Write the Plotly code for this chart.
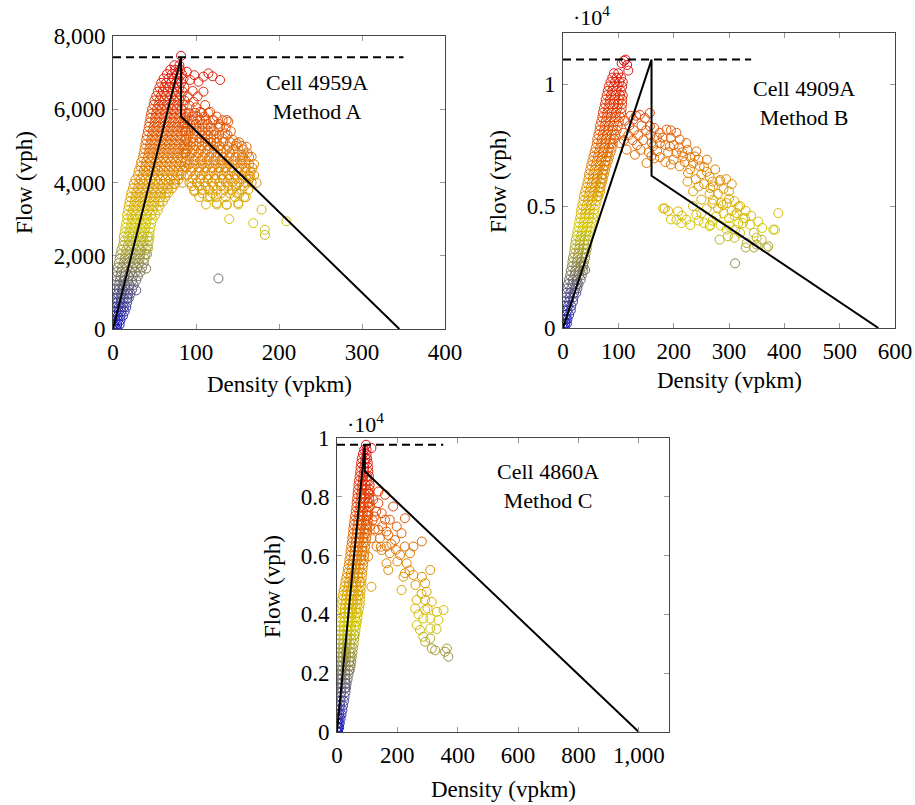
import plotly.graph_objects as go

# ---------------- DATA ----------------
# Free-flow branch, read off the picture as rows: (flow [vph], [densities (vpkm)])
cell_a_free_rows = [
    (0, [0, 3, 5]), (120, [0, 2, 5, 8]), (240, [0, 3, 6, 9]), (360, [0, 3, 6, 9, 12]),
    (480, [1, 4, 7, 10, 14]), (600, [1, 4, 7, 10, 13, 16]), (720, [1, 5, 9, 13, 17]),
    (840, [1, 5, 9, 13, 17, 19]), (960, [2, 6, 10, 14, 18, 21]), (1080, [3, 7, 11, 15, 19, 23]),
    (1200, [3, 7, 11, 15, 20, 25]), (1320, [4, 8, 13, 18, 23, 28]), (1440, [4, 9, 14, 19, 24, 30]),
    (1560, [5, 10, 15, 21, 27, 33]), (1680, [6, 11, 17, 23, 29, 35]), (1800, [7, 13, 19, 25, 31, 37]),
    (1920, [8, 14, 20, 26, 32, 38]), (2040, [9, 15, 21, 27, 33, 39, 41]), (2160, [10, 16, 22, 28, 34, 40]),
    (2280, [12, 18, 24, 30, 36, 42]), (2400, [13, 19, 25, 31, 37, 43]), (2520, [13, 18, 24, 30, 36, 42, 44]),
    (2640, [14, 20, 26, 32, 38, 44]), (2760, [15, 21, 27, 33, 39, 45]), (2880, [16, 22, 28, 34, 40, 46]),
    (3000, [17, 23, 29, 35, 41, 48]), (3120, [17, 22, 28, 34, 40, 46, 51]), (3240, [18, 24, 30, 36, 42, 48, 54]),
    (3360, [19, 25, 31, 37, 43, 49, 56]), (3480, [20, 26, 32, 38, 44, 50, 56, 60]),
    (3600, [21, 27, 33, 39, 45, 51, 57, 63]), (3720, [22, 28, 34, 40, 46, 52, 58, 64, 67]),
    (3840, [24, 30, 36, 42, 48, 54, 60, 66, 71]), (3960, [25, 31, 37, 43, 49, 55, 61, 67, 73, 75]),
    (4080, [27, 33, 39, 45, 51, 57, 63, 69, 75, 79]), (4200, [30, 36, 42, 48, 54, 60, 66, 72, 78, 82]),
    (4320, [31, 37, 43, 49, 55, 61, 67, 73, 79, 84]), (4440, [33, 39, 45, 51, 57, 63, 69, 75, 81, 86]),
    (4560, [34, 40, 46, 52, 58, 64, 70, 76, 82, 87]), (4680, [36, 42, 48, 54, 60, 66, 72, 78, 84]),
    (4800, [37, 43, 49, 55, 61, 67, 73, 79, 85, 88]), (4920, [38, 44, 50, 56, 62, 68, 74, 80, 86]),
    (5040, [39, 45, 51, 57, 63, 69, 75, 81, 87]), (5160, [40, 46, 52, 58, 64, 70, 76, 82, 88]),
    (5280, [41, 47, 53, 59, 65, 71, 77, 83]), (5400, [42, 48, 54, 60, 66, 72, 78, 84, 88]),
    (5520, [43, 49, 55, 61, 67, 73, 79, 85]), (5640, [44, 50, 56, 62, 68, 74, 80, 86]),
    (5760, [45, 51, 57, 63, 69, 75, 81, 87]), (5880, [46, 52, 58, 64, 70, 76, 82, 88]),
    (6000, [47, 53, 59, 65, 71, 77, 83]), (6120, [49, 55, 61, 67, 73, 79, 85]),
    (6240, [50, 56, 62, 68, 74, 80, 86]), (6360, [52, 58, 64, 70, 76, 82]),
    (6480, [54, 60, 66, 72, 78, 84]), (6600, [56, 62, 68, 74, 80, 86]), (6720, [58, 64, 70, 76, 82]),
    (6840, [61, 67, 73, 79, 85]), (6960, [65, 71, 77, 83]), (7080, [69, 75, 81]), (7200, [74, 80]),
    (7460, [82]),
]
cell_a_congested = [
    (89, 7025), (93, 6800), (103, 6750), (109, 6890), (115, 6980), (129, 6800), (120, 6900), (98, 6930),
    (109, 6480), (97, 6205), (111, 6115), (117, 5930), (105, 5930), (96, 6500), (90, 6350), (102, 6350),
    (92, 6100), (100, 6050), (121, 5705), (137, 5705), (139, 5660), (129, 5523), (135, 5340), (145, 5160),
    (149, 5068), (139, 4977), (161, 4977), (167, 4704), (155, 4750),
    (88, 5800), (95, 5800), (102, 5800), (110, 5800), (125, 5800),
    (91, 5900), (99, 5900), (107, 5900), (115, 5900),
    (86, 5600), (93, 5600), (100, 5600), (108, 5600), (114, 5600), (127, 5600),
    (90, 5700), (97, 5700), (105, 5700), (112, 5700), (120, 5700), (132, 5700),
    (87, 5400), (94, 5400), (101, 5400), (108, 5400), (115, 5400), (122, 5400), (142, 5400),
    (90, 5500), (97, 5500), (104, 5500), (111, 5500), (118, 5500), (127, 5500), (136, 5500),
    (88, 5200), (96, 5200), (104, 5200), (111, 5200), (118, 5200), (125, 5200), (132, 5200),
    (91, 5300), (99, 5300), (107, 5300), (114, 5300), (121, 5300), (128, 5300), (138, 5300),
    (86, 5000), (93, 5000), (100, 5000), (107, 5000), (114, 5000), (121, 5000), (128, 5000), (148, 5000), (155, 5000),
    (90, 5100), (97, 5100), (104, 5100), (111, 5100), (118, 5100), (125, 5100), (133, 5100), (141, 5100), (152, 5100),
    (87, 4800), (95, 4800), (103, 4800), (111, 4800), (119, 4800), (126, 4800), (133, 4800), (141, 4800), (150, 4800), (162, 4800),
    (90, 4900), (98, 4900), (106, 4900), (114, 4900), (122, 4900), (130, 4900), (137, 4900), (145, 4900), (157, 4900),
    (89, 4600), (97, 4600), (105, 4600), (113, 4600), (121, 4600), (129, 4600), (137, 4600), (145, 4600), (153, 4600), (160, 4600),
    (92, 4700), (100, 4700), (108, 4700), (116, 4700), (124, 4700), (132, 4700), (140, 4700), (148, 4700), (156, 4700), (164, 4700),
    (88, 4400), (96, 4400), (104, 4400), (112, 4400), (120, 4400), (128, 4400), (136, 4400), (144, 4400), (152, 4400), (160, 4400), (168, 4400),
    (92, 4500), (100, 4500), (108, 4500), (116, 4500), (124, 4500), (132, 4500), (140, 4500), (148, 4500), (156, 4500), (164, 4500),
    (90, 4200), (99, 4200), (107, 4200), (115, 4200), (123, 4200), (131, 4200), (139, 4200), (147, 4200), (155, 4200), (163, 4200), (170, 4200),
    (94, 4300), (103, 4300), (111, 4300), (119, 4300), (127, 4300), (135, 4300), (143, 4300), (151, 4300), (159, 4300), (166, 4300),
    (92, 4000), (101, 4000), (110, 4000), (119, 4000), (128, 4000), (136, 4000), (144, 4000), (152, 4000), (160, 4000), (167, 4000),
    (96, 4100), (105, 4100), (114, 4100), (123, 4100), (132, 4100), (140, 4100), (148, 4100), (156, 4100), (164, 4100),
    (98, 3800), (107, 3800), (116, 3800), (125, 3800), (134, 3800), (143, 3800), (155, 3800), (163, 3800),
    (95, 3900), (104, 3900), (112, 3900), (121, 3900), (130, 3900), (139, 3900), (148, 3900), (158, 3900),
    (104, 3600), (114, 3600), (124, 3600), (136, 3600), (147, 3600), (158, 3600),
    (108, 3700), (120, 3700), (130, 3700), (141, 3700), (152, 3700),
    (112, 3400), (125, 3400), (137, 3400), (151, 3400),
    (84, 3990), (98, 3760), (117, 3620), (125, 3440), (137, 3390), (151, 3440), (149, 3720), (173, 3990),
    (179, 3260), (169, 2890), (183, 2710), (183, 2570), (209, 2940), (140, 3000), (127, 1380),
    (42, 2200), (40, 1650), (28, 1055), (165, 4170), (170, 4500), (160, 3600),
]

cell_b_free_rows = [
    (0, [0, 3]), (180, [0, 4, 7]), (360, [1, 5, 8]), (540, [1, 6, 11]), (720, [2, 8, 14]),
    (900, [3, 9, 15]), (1080, [4, 11, 18]), (1260, [5, 12, 19]), (1440, [6, 13, 20, 24]),
    (1620, [8, 15, 22, 26]), (1800, [9, 17, 25, 28]), (1980, [11, 18, 25, 32]), (2160, [13, 21, 29, 34]),
    (2340, [14, 22, 30, 36]), (2520, [16, 24, 32, 37]), (2700, [17, 25, 33, 38]), (2880, [18, 26, 34, 40]),
    (3060, [20, 28, 36, 41]), (3240, [21, 29, 37, 43]), (3420, [22, 30, 38, 44]), (3600, [23, 31, 39, 45]),
    (3780, [25, 33, 41, 47]), (3960, [26, 34, 42, 49]), (4140, [28, 36, 44, 50]), (4320, [29, 37, 45, 52]),
    (4500, [31, 39, 47, 54]), (4680, [32, 40, 48, 56]), (4860, [33, 41, 49, 57]), (5040, [35, 43, 51, 59]),
    (5220, [37, 45, 53, 61]), (5400, [38, 46, 54, 62, 64]), (5580, [40, 48, 56, 64, 67]),
    (5760, [42, 50, 58, 66, 68]), (5940, [44, 52, 60, 68, 70]), (6120, [46, 54, 62, 70, 72]),
    (6300, [47, 55, 63, 71, 74]), (6480, [49, 57, 65, 73, 76]), (6660, [51, 59, 67, 75, 78]),
    (6840, [53, 61, 69, 77, 81]), (7020, [55, 63, 71, 79, 83]), (7200, [57, 65, 73, 81, 86]),
    (7380, [59, 67, 75, 83, 88]), (7560, [61, 69, 77, 85, 90]), (7740, [62, 70, 78, 86, 92]),
    (7920, [64, 72, 80, 88, 94]), (8100, [66, 74, 82, 90, 97]), (8280, [67, 75, 83, 91, 99]),
    (8460, [69, 77, 85, 93, 101]), (8640, [71, 79, 87, 95, 103]), (8820, [72, 80, 88, 96, 105]),
    (9000, [74, 82, 90, 98, 106]), (9180, [76, 84, 92, 100, 107]), (9360, [77, 85, 93, 101, 107]),
    (9540, [79, 87, 95, 103, 108]), (9720, [81, 89, 97, 105]), (9900, [83, 91, 99, 107]),
    (10080, [86, 94, 102, 108]), (10260, [89, 97, 105]), (10440, [92, 100]),
]
cell_b_congested = [
    (106, 10850), (113, 11000), (116, 10780), (118, 10550), (110, 10950), (40, 2380), (36, 2600),
    (389, 4710), (383, 4030), (368, 3280), (350, 3420), (332, 3480), (338, 4230), (317, 4300), (326, 4500),
    (314, 4710), (311, 4030), (296, 4030), (298, 3760), (283, 3620), (277, 4580), (265, 4170), (286, 5120),
    (283, 6010), (271, 5800), (265, 6200), (250, 5260), (235, 5000), (241, 4640), (223, 4440), (214, 4300),
    (205, 4440), (208, 4780), (181, 4900), (238, 7030), (241, 7240), (217, 7030), (205, 7170), (193, 7440),
    (187, 8130), (175, 8000), (157, 8270), (157, 8810), (139, 8740), (127, 8540), (109, 8000), (103, 7580),
    (115, 7310), (130, 7100), (151, 6760), (163, 7450), (175, 7580), (211, 7720), (223, 7580), (247, 6630),
    (211, 6630), (226, 6350), (271, 5260), (296, 5120), (359, 3620), (371, 3350), (380, 4030), (311, 2650),
    (353, 4360), (329, 4500), (317, 4970), (289, 5040), (266, 4220), (230, 4220), (184, 4900), (284, 6070), (266, 5740),
    (112, 8500), (120, 8300), (128, 8100), (136, 7900), (145, 7700), (118, 7900), (126, 7700), (134, 7500),
    (142, 8300), (150, 8100), (158, 7900), (148, 8600), (132, 8700), (122, 8700), (110, 7700), (140, 7300),
    (155, 7200), (165, 8200), (170, 7800), (160, 7600), (180, 7800), (185, 7500), (195, 7800), (200, 7500),
    (190, 7200), (210, 7400), (215, 7200), (225, 7300), (230, 7000), (220, 6800), (200, 6900), (195, 6700),
    (185, 6800), (175, 7000), (165, 6950), (160, 7050), (170, 7250), (205, 8000), (195, 8100),
    (235, 6750), (245, 6900), (255, 6600), (250, 6300), (240, 6100), (260, 6900), (230, 6500), (260, 6400),
    (270, 6000), (255, 5900), (275, 6500), (280, 5500), (265, 5500), (290, 5700), (245, 5800), (235, 5600),
    (300, 5600), (305, 5900), (295, 6100), (225, 6000),
    (300, 5300), (310, 5200), (320, 5000), (305, 4800), (290, 4700), (280, 4900), (270, 5100), (330, 4800),
    (340, 4600), (325, 4300), (300, 4500), (260, 4900), (250, 4700), (310, 4600),
    (195, 4450), (190, 4800), (215, 4600), (245, 4400), (255, 4300), (270, 4400), (285, 4200),
    (300, 4200), (320, 3900), (345, 3900), (350, 3700), (360, 4100), (345, 3300), (330, 3300), (310, 3700),
]

cell_c_free_rows = [
    (0, [0, 4]), (150, [0, 4, 7]), (300, [0, 5, 9]), (450, [0, 6, 12]), (600, [1, 8, 15]),
    (750, [1, 9, 18]), (900, [1, 10, 20]), (1050, [2, 12, 23]), (1200, [2, 13, 25]), (1350, [2, 14, 28]),
    (1500, [3, 15, 27, 30]), (1650, [3, 16, 28, 32]), (1800, [3, 15, 27, 35]), (1950, [4, 16, 28, 38]),
    (2100, [4, 16, 28, 40, 42]), (2250, [4, 17, 30, 43, 45]), (2400, [5, 17, 29, 41, 47]),
    (2550, [5, 18, 31, 44, 49]), (2700, [6, 18, 30, 42, 51]), (2850, [7, 20, 33, 46, 53]),
    (3000, [8, 20, 32, 44, 55]), (3150, [8, 21, 34, 47, 57]), (3300, [9, 21, 33, 45, 57, 59]),
    (3450, [9, 22, 35, 48, 61]), (3600, [10, 22, 34, 46, 58, 63]), (3750, [11, 24, 37, 50, 63, 66]),
    (3900, [12, 24, 36, 48, 60, 68]), (4050, [13, 26, 39, 52, 65, 70]), (4200, [14, 26, 38, 50, 62, 73]),
    (4350, [15, 28, 41, 54, 67, 75]), (4500, [17, 29, 41, 53, 65, 76]), (4650, [19, 32, 45, 58, 71, 77]),
    (4800, [22, 34, 46, 58, 70, 78]), (4950, [25, 38, 51, 64, 79]), (5100, [28, 40, 52, 64, 76, 81]),
    (5250, [31, 44, 57, 70, 82]), (5400, [34, 46, 58, 70, 83]), (5550, [36, 49, 62, 75, 85]),
    (5700, [39, 51, 63, 75, 87]), (5850, [41, 54, 67, 80, 89]), (6000, [44, 56, 68, 80, 90]),
    (6150, [45, 58, 71, 84, 91]), (6300, [47, 59, 71, 83, 93]), (6450, [49, 62, 75, 88, 95]),
    (6600, [51, 63, 75, 87, 97]), (6750, [53, 66, 79, 92, 99]), (6900, [54, 66, 78, 90, 100]),
    (7050, [56, 69, 82, 95, 101]), (7200, [58, 70, 82, 94, 102]), (7350, [60, 73, 86, 99, 103]),
    (7500, [62, 74, 86, 98, 104]), (7650, [64, 77, 90, 105]), (7800, [65, 77, 89, 101, 106]),
    (7950, [67, 80, 93, 107]), (8100, [68, 80, 92, 104, 107]), (8250, [70, 83, 96, 108]),
    (8400, [71, 83, 95, 108]), (8550, [73, 86, 99, 107]), (8700, [75, 87, 99, 106]),
    (8850, [77, 90, 104]), (9000, [78, 90, 103]), (9150, [80, 92, 102]), (9300, [82, 94, 100]),
    (9450, [86, 98]), (9600, [90, 98]), (9770, [96]),
]
cell_c_congested = [
    (114, 9660), (103, 8180), (137, 8180), (159, 8070), (109, 7670), (137, 7780), (186, 7670), (148, 7440),
    (125, 7330), (159, 7220), (175, 7220), (225, 7270), (198, 6990), (109, 6990), (137, 6880), (164, 6820),
    (214, 6760), (114, 6590), (142, 6590), (192, 6530), (281, 6480), (131, 6310), (164, 6310), (225, 6310),
    (253, 6310), (175, 6080), (209, 6020), (242, 6080), (103, 5970), (231, 5740), (164, 5740), (148, 6190),
    (170, 5510), (225, 5400), (220, 5280), (309, 5510), (281, 5280), (292, 5060), (253, 5340), (114, 4940),
    (214, 4830), (264, 4490), (292, 4490), (314, 4430), (259, 4200), (292, 4150), (331, 4090), (353, 4150),
    (309, 3860), (336, 3810), (286, 3860), (264, 3640), (309, 3520), (286, 3240), (309, 3180), (292, 3070),
    (314, 2840), (325, 2780), (364, 2840), (369, 2560), (358, 2730), (275, 3470), (297, 4770),
    (120, 7900), (130, 7500), (150, 7000), (118, 7200), (125, 6900), (145, 6300), (180, 6400), (195, 6200),
    (170, 6700), (200, 5800), (240, 5500), (260, 5000), (280, 4700), (300, 4200), (270, 4000), (330, 3500),
]

# Triangular fundamental diagrams with capacity drop
fd_a_density = [0, 82, 82, 345]
fd_a_flow = [0, 7420, 5800, 0]
fd_b_density = [0, 160, 160, 570]
fd_b_flow = [0, 11000, 6240, 0]
fd_c_density = [0, 92, 92, 1000]
fd_c_flow = [0, 9770, 8870, 0]

# Capacity lines (dashed)
cap_a_density = [0, 350]
cap_a_flow = [7420, 7420]
cap_b_density = [0, 340]
cap_b_flow = [11000, 11000]
cap_c_density = [0, 352]
cap_c_flow = [9770, 9770]

labels_a = ["Cell 4959A", "Method A"]
labels_b = ["Cell 4909A", "Method B"]
labels_c = ["Cell 4860A", "Method C"]


def unpack(rows, extra):
    k, q = [], []
    for flow, dens in rows:
        for d in dens:
            k.append(d)
            q.append(flow)
    for d, f in extra:
        k.append(d)
        q.append(f)
    return k, q


ka, qa = unpack(cell_a_free_rows, cell_a_congested)
kb, qb = unpack(cell_b_free_rows, cell_b_congested)
kc, qc = unpack(cell_c_free_rows, cell_c_congested)

# ---------------- FIGURE ----------------
W, H = 915, 805
FONT = "Liberation Serif"
colorscale = [[0.0, "rgb(15,15,205)"], [0.38, "rgb(212,202,0)"],
              [0.62, "rgb(226,120,0)"], [0.86, "rgb(226,50,5)"], [1.0, "rgb(220,10,20)"]]

fig = go.Figure()


def add_panel(n, k, q, cmax, fdk, fdq, capk, capq):
    xa = "x" if n == 1 else f"x{n}"
    ya = "y" if n == 1 else f"y{n}"
    fig.add_trace(go.Scatter(
        x=k, y=q, mode="markers", xaxis=xa, yaxis=ya, showlegend=False,
        marker=dict(symbol="circle-open", size=9, color=q, colorscale=colorscale,
                    cmin=0, cmax=cmax, line=dict(width=1))))
    fig.add_trace(go.Scatter(x=capk, y=capq, mode="lines", xaxis=xa, yaxis=ya, showlegend=False,
                             line=dict(color="black", width=2, dash="8px,5px")))
    fig.add_trace(go.Scatter(x=fdk, y=fdq, mode="lines", xaxis=xa, yaxis=ya, showlegend=False,
                             line=dict(color="black", width=2)))


add_panel(1, ka, qa, 7420, fd_a_density, fd_a_flow, cap_a_density, cap_a_flow)
add_panel(2, kb, qb, 11000, fd_b_density, fd_b_flow, cap_b_density, cap_b_flow)
add_panel(3, kc, qc, 9770, fd_c_density, fd_c_flow, cap_c_density, cap_c_flow)


def dom_x(a, b):
    return [a / W, b / W]


def dom_y(top, bottom):
    return [1 - bottom / H, 1 - top / H]


axis_common = dict(showline=True, mirror="allticks", linecolor="rgb(70,70,70)", linewidth=1,
                   ticks="inside", ticklen=5, tickcolor="rgb(150,150,150)", showgrid=False,
                   zeroline=False, tickfont=dict(family=FONT, size=23, color="black"),
                   ticklabelstandoff=2)

fig.update_layout(
    width=W, height=H, margin=dict(l=0, r=0, t=0, b=0, autoexpand=False),
    paper_bgcolor="white", plot_bgcolor="white",
    xaxis=dict(axis_common, domain=dom_x(113, 445), range=[0, 400],
               tickvals=[0, 100, 200, 300, 400], anchor="y"),
    yaxis=dict(axis_common, domain=dom_y(36, 329), range=[0, 8000],
               tickvals=[0, 2000, 4000, 6000, 8000], ticktext=["0", "2,000", "4,000", "6,000", "8,000"], anchor="x"),
    xaxis2=dict(axis_common, domain=dom_x(563, 895), range=[0, 600],
                tickvals=[0, 100, 200, 300, 400, 500, 600], anchor="y2"),
    yaxis2=dict(axis_common, domain=dom_y(33, 328), range=[0, 12090],
                tickvals=[0, 5000, 10000], ticktext=["0", "0.5", "1"], anchor="x2"),
    xaxis3=dict(axis_common, domain=dom_x(337, 669), range=[0, 1100],
                tickvals=[0, 200, 400, 600, 800, 1000], ticktext=["0", "200", "400", "600", "800", "1,000"], anchor="y3"),
    yaxis3=dict(axis_common, domain=dom_y(438, 732), range=[0, 10000],
                tickvals=[0, 2000, 4000, 6000, 8000, 10000],
                ticktext=["0", "0.2", "0.4", "0.6", "0.8", "1"], anchor="x3"),
)


def ann(text, x, y, size=23, angle=0):
    fig.add_annotation(text=text, x=x / W, y=1 - y / H, xref="paper", yref="paper",
                       showarrow=False, textangle=angle, xanchor="center", yanchor="middle",
                       font=dict(family=FONT, size=size, color="black"))


# panel texts (two-line labels as one text block)
ann("<br>".join(labels_a), 317, 97, size=22)
ann("<br>".join(labels_b), 804, 103, size=22)
ann("<br>".join(labels_c), 548, 486, size=22)
# axis titles
ann("Flow (vph)", 24, 183, angle=-90)
ann("Density (vpkm)", 279, 384)
ann("Flow (vph)", 498, 182, angle=-90)
ann("Density (vpkm)", 729, 380)
ann("Flow (vph)", 272, 587, angle=-90)
ann("Density (vpkm)", 503, 789)
# exponent labels
ann("·10<sup>4</sup>", 591, 16, size=22)
ann("·10<sup>4</sup>", 365, 423, size=22)

fig.write_html("out.html", config={"displayModeBar": False},
               post_script="document.body.style.margin='0px';document.body.style.overflow='hidden';")
